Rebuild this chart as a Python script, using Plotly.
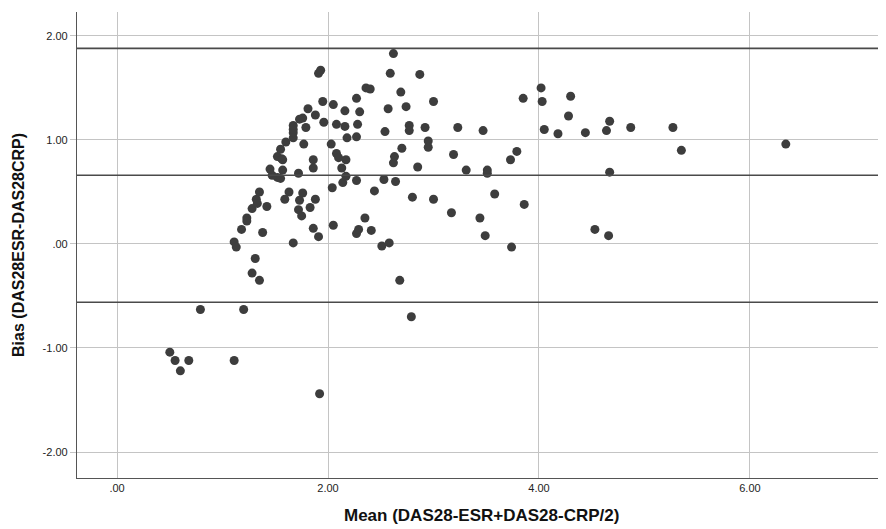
import plotly.graph_objects as go

mean_x = [0.50, 0.55, 0.60, 0.68, 0.79, 1.11, 1.20, 1.28, 1.31, 1.35, 1.92, 2.79, 2.68,
          1.11, 1.13, 1.18, 1.23, 1.23, 1.28, 1.32, 1.33, 1.35, 1.38, 1.42, 1.45, 1.47,
          1.52, 1.52, 1.55, 1.55, 1.56, 1.57, 1.57, 1.59, 1.60, 1.63, 1.67, 1.67, 1.67,
          1.67, 1.67, 1.72, 1.72, 1.73, 1.73, 1.75, 1.76, 1.76, 1.77, 1.79, 1.81, 1.83,
          1.86, 1.86, 1.86, 1.88, 1.88, 1.91, 1.91, 1.93, 1.95, 1.96, 2.03, 2.04, 2.05,
          2.05, 2.08, 2.08, 2.10, 2.13, 2.14, 2.16, 2.16, 2.17, 2.17, 2.18, 2.27, 2.27,
          2.27, 2.29, 2.28, 2.27, 2.30, 2.35, 2.36, 2.40, 2.41, 2.44, 2.51, 2.54, 2.53,
          2.57, 2.58, 2.59, 2.62, 2.62, 2.63, 2.64, 2.69, 2.70, 2.74, 2.77, 2.77, 2.80,
          2.85, 2.87, 2.92, 2.95, 2.95, 3.00, 3.00, 3.17, 3.19, 3.23, 3.31, 3.44, 3.47,
          3.49, 3.51, 3.51, 3.58, 3.73, 3.74, 3.79, 3.85, 3.86, 4.02, 4.03, 4.05, 4.18,
          4.28, 4.30, 4.44, 4.53, 4.64, 4.66, 4.67, 4.67, 4.87, 5.27, 5.35, 6.34]

bias_y = [-1.04, -1.12, -1.22, -1.12, -0.63, -1.12, -0.63, -0.28, -0.14, -0.35, -1.44, -0.70, -0.35,
          0.02, -0.03, 0.14, 0.25, 0.22, 0.34, 0.43, 0.39, 0.50, 0.11, 0.36, 0.72, 0.66,
          0.64, 0.84, 0.63, 0.91, 0.82, 0.71, 0.81, 0.43, 0.98, 0.50, 0.01, 1.02, 1.07,
          1.10, 1.14, 0.68, 0.33, 0.42, 1.20, 0.27, 0.49, 1.21, 0.96, 1.12, 1.30, 0.35,
          0.81, 0.73, 0.15, 1.24, 0.43, 0.07, 1.64, 1.67, 1.37, 1.17, 0.96, 0.54, 0.18,
          1.34, 1.15, 0.87, 0.83, 0.73, 0.59, 1.13, 1.28, 0.81, 0.65, 1.02, 1.03, 0.61,
          0.10, 0.14, 1.15, 1.40, 1.27, 0.25, 1.50, 1.49, 0.13, 0.51, -0.02, 1.08, 0.62,
          1.30, 0.01, 1.64, 1.83, 0.78, 0.84, 0.60, 1.46, 0.92, 1.32, 1.14, 1.09, 0.45,
          0.74, 1.63, 1.12, 0.99, 0.93, 1.37, 0.43, 0.30, 0.86, 1.12, 0.71, 0.25, 1.09,
          0.08, 0.71, 0.68, 0.48, 0.81, -0.03, 0.89, 1.40, 0.38, 1.50, 1.37, 1.10, 1.06,
          1.23, 1.42, 1.07, 0.14, 1.09, 0.08, 1.18, 0.69, 1.12, 1.12, 0.90, 0.96]

ref_lines = [1.88, 0.66, -0.56]  # upper LoA, mean bias, lower LoA

x_ticks = [0, 2, 4, 6]
x_tick_text = [".00", "2.00", "4.00", "6.00"]
y_ticks = [-2, -1, 0, 1, 2]
y_tick_text = ["-2.00", "-1.00", ".00", "1.00", "2.00"]

fig = go.Figure()
fig.add_trace(go.Scatter(
    x=mean_x, y=bias_y, mode="markers",
    marker=dict(size=9, color="#3d3d3d", line=dict(width=0)),
    showlegend=False, hoverinfo="x+y"))

for v in ref_lines:
    fig.add_shape(type="line", xref="paper", x0=0, x1=1, yref="y", y0=v, y1=v,
                  line=dict(color="#4a4a4a", width=1.6), layer="above")

fig.update_layout(
    width=878, height=521,
    margin=dict(l=69, r=0, t=4, b=51),
    plot_bgcolor="white", paper_bgcolor="white",
    font=dict(family="Liberation Sans, Arial, sans-serif", color="#222222", size=11),
    xaxis=dict(range=[-0.38, 7.29], tickvals=x_ticks, ticktext=x_tick_text,
               showgrid=True, gridcolor="#c4c4c4", gridwidth=1, zeroline=False,
               showline=True, linecolor="#555555", linewidth=1.2,
               ticks="", tickfont=dict(size=11, color="#222222"), automargin=False),
    yaxis=dict(range=[-2.25, 2.23], tickvals=y_ticks, ticktext=y_tick_text,
               showgrid=True, gridcolor="#c4c4c4", gridwidth=1, zeroline=False,
               showline=True, linecolor="#555555", linewidth=1.2,
               ticks="outside", ticklen=6, tickcolor="#c4c4c4", tickwidth=1,
               tickfont=dict(size=11, color="#222222"), automargin=False),
    annotations=[
        dict(text="<b>Mean (DAS28-ESR+DAS28-CRP/2)</b>", xref="paper", yref="paper",
             x=0.50, y=-0.0815, xanchor="center", yanchor="middle", showarrow=False,
             font=dict(size=17, color="#111111")),
        dict(text="<b>Bias (DAS28ESR-DAS28CRP)</b>", xref="paper", yref="paper",
             x=-0.073, y=0.5, xanchor="center", yanchor="middle", showarrow=False,
             textangle=-90, font=dict(size=16, color="#111111")),
    ],
)

fig.write_html("out.html")
